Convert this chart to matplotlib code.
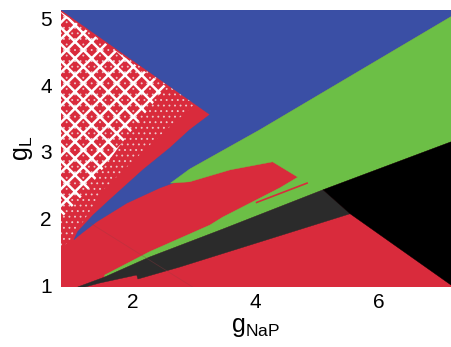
import matplotlib
matplotlib.use("Agg")
import matplotlib.pyplot as plt

plt.rcParams['font.family'] = ['Liberation Sans', 'DejaVu Sans']
plt.rcParams['mathtext.default'] = 'regular'

# parameter plane limits (g_NaP, g_L)
x_lim = (0.84, 7.18)
y_lim = (0.97, 5.13)
x_ticks = [2, 4, 6]
y_ticks = [1, 2, 3, 4, 5]

# region boundaries, (g_NaP, g_L) vertices
blue_region = [(0.84, 5.13), (7.18, 5.13), (7.18, 5.03), (4.07, 3.33), (2.93, 2.74),
               (2.66, 2.53), (2.45, 2.46), (1.91, 2.23), (1.42, 1.95), (1.18, 1.78),
               (1.05, 1.68), (1.11, 1.80), (1.36, 2.05), (1.63, 2.28), (2.17, 2.73),
               (2.61, 3.06), (2.93, 3.33), (3.26, 3.56)]
green_region = [(7.18, 5.03), (4.07, 3.33), (2.93, 2.74), (2.62, 2.53), (2.93, 2.55),
                (3.59, 2.73), (4.28, 2.85), (4.69, 2.62), (4.40, 2.46), (4.02, 2.28),
                (3.47, 2.02), (3.26, 1.90), (2.28, 1.50), (1.55, 1.15), (1.55, 1.12),
                (2.28, 1.42), (3.47, 1.84), (5.10, 2.43), (7.18, 3.15)]
gray_region = [(1.11, 0.97), (1.55, 1.12), (2.28, 1.42), (3.47, 1.84), (5.10, 2.43),
               (5.54, 2.07), (2.77, 1.27), (2.09, 1.09), (2.07, 1.15), (1.47, 1.03),
               (1.23, 0.97)]
black_region = [(5.10, 2.43), (7.18, 3.15), (7.18, 1.00), (5.54, 2.07)]
# irregular (non-locking) zone: dense core and sparse fringe
irregular_core = [(0.84, 5.10), (2.55, 3.98), (1.80, 3.10), (1.25, 2.40),
                  (0.84, 2.00)]
irregular_fringe = [(0.84, 5.10), (3.02, 3.72), (2.28, 3.10), (1.55, 2.45),
                    (1.02, 1.70), (0.84, 1.55)]
red_trace_x = [4.02, 4.84]
red_trace_y = [2.24, 2.53]
faint_x = [1.28, 2.98]
faint_y = [1.95, 0.97]

red = '#d92b3c'
blue = '#3a4fa5'
green = '#6cbf46'
gray = '#2b2b2b'

fig = plt.figure(figsize=(4.51, 3.47), dpi=100)
ax = fig.add_axes([0.1353, 0.1729, 0.8647, 0.7983])

ax.fill([x_lim[0], x_lim[1], x_lim[1], x_lim[0]],
        [y_lim[0], y_lim[0], y_lim[1], y_lim[1]], color=red, lw=0)

plt.rcParams['hatch.linewidth'] = 0.6
xs, ys = zip(*irregular_fringe)
ax.fill(xs, ys, facecolor='none', edgecolor='#f0c8cc', hatch='...', lw=0)
plt.rcParams['hatch.linewidth'] = 1.8
xs, ys = zip(*irregular_core)
ax.fill(xs, ys, facecolor='none', edgecolor='white', hatch='xx', lw=0)
ax.plot(faint_x, faint_y, color='#9a3a40', lw=0.6, alpha=0.35)

for poly, col in [(blue_region, blue), (green_region, green),
                  (gray_region, gray), (black_region, 'black')]:
    xs, ys = zip(*poly)
    ax.fill(xs, ys, color=col, lw=0.3, ec=col)

ax.plot(red_trace_x, red_trace_y, color=red, lw=1.2)

ax.set_xlim(*x_lim)
ax.set_ylim(*y_lim)
ax.set_xticks(x_ticks)
ax.set_yticks(y_ticks)
for s in ax.spines.values():
    s.set_visible(False)
ax.tick_params(length=0, labelsize=15)
ax.tick_params(axis='y', pad=6.5)
ax.tick_params(axis='x', pad=4.5)
ax.set_xlabel('$g_{NaP}$', fontsize=18, labelpad=2)
ax.set_ylabel('$g_L$', fontsize=18, labelpad=4)

fig.savefig('out.png', dpi=100)
